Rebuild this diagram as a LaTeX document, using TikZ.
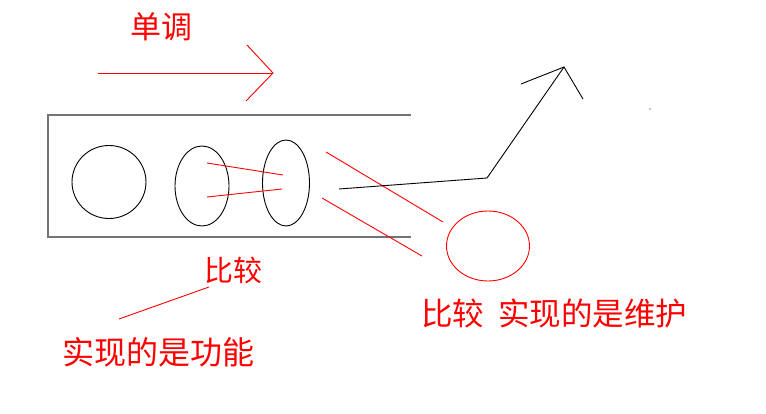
\documentclass[tikz,border=0pt]{standalone}
\usepackage{fontspec}
\newfontfamily\cjk{Noto Sans CJK SC}
\usetikzlibrary{shapes.geometric}
\begin{document}
\begin{tikzpicture}[x=1pt,y=-1pt,
  boxline/.style={draw=black!55, line width=1.3pt},
  blk/.style={draw=black, line width=0.9pt},
  redline/.style={draw=red, line width=0.9pt},
  shape0/.style={ellipse, draw=black, line width=0.9pt, inner sep=0pt},
  lbl/.style={text=red, inner sep=0pt, anchor=west, font=\cjk}
]
\useasboundingbox (0,0) rectangle (766,414);
\fill[white] (0,0) rectangle (766,414);
% box
\coordinate (bt) at (411,115);
\coordinate (btl) at (48,115);
\coordinate (bbl) at (48,237);
\coordinate (bb) at (411,237);
\draw[boxline] (bt) -- (btl) -- (bbl) -- (bb);
% shapes inside
\node[shape0, minimum width=74pt, minimum height=73pt] (c1) at (109,182) {};
\node[shape0, minimum width=54pt, minimum height=80pt] (c2) at (202,186) {};
\node[shape0, minimum width=47pt, minimum height=86pt] (c3) at (286,183) {};
% red lines between ellipses
\coordinate (a1) at (207,163);
\coordinate (a2) at (283,175);
\coordinate (b1) at (207,197);
\coordinate (b2) at (282,189);
\draw[redline] (a1) -- (a2);
\draw[redline] (b1) -- (b2);
% diagonal red lines
\coordinate (d1) at (326,152);
\coordinate (d2) at (443,222);
\coordinate (e1) at (322,198);
\coordinate (e2) at (422,256);
\draw[redline] (d1) -- (d2);
\draw[redline] (e1) -- (e2);
% red ellipse
\node[ellipse, draw=red, line width=0.9pt, inner sep=0pt, minimum width=83pt, minimum height=70pt] (re) at (488,246) {};
% black rising line
\coordinate (k0) at (339,189);
\coordinate (k1) at (487,178);
\coordinate (k2) at (564,67);
\coordinate (h1) at (521,84);
\coordinate (h2) at (583,99);
\draw[blk] (k0) -- (k1) -- (k2);
\draw[blk] (h1) -- (k2) -- (h2);
% red arrow
\coordinate (r0) at (98,73);
\coordinate (r1) at (273,73);
\coordinate (rh1) at (247,45);
\coordinate (rh2) at (246,101);
\draw[redline] (r0) -- (r1);
\draw[redline] (rh1) -- (r1) -- (rh2);
% pointer line
\coordinate (p0) at (119,319);
\coordinate (p1) at (209,287);
\draw[redline] (p0) -- (p1);
% tiny dots
\fill[black] (650,109) circle (0.6pt);
% labels
\node[lbl, font=\cjk\fontsize{31}{31}\selectfont] (t1) at (130,27) {单调};
\node[lbl, font=\cjk\fontsize{29}{29}\selectfont] (t2) at (204,270) {比较};
\node[lbl, font=\cjk\fontsize{32}{32}\selectfont] (t3) at (62,352) {实现的是功能};
\node[lbl, font=\cjk\fontsize{31.5}{31.5}\selectfont] (t4) at (421,313) {比较\hspace{14pt}实现的是维护};
\end{tikzpicture}
\end{document}
